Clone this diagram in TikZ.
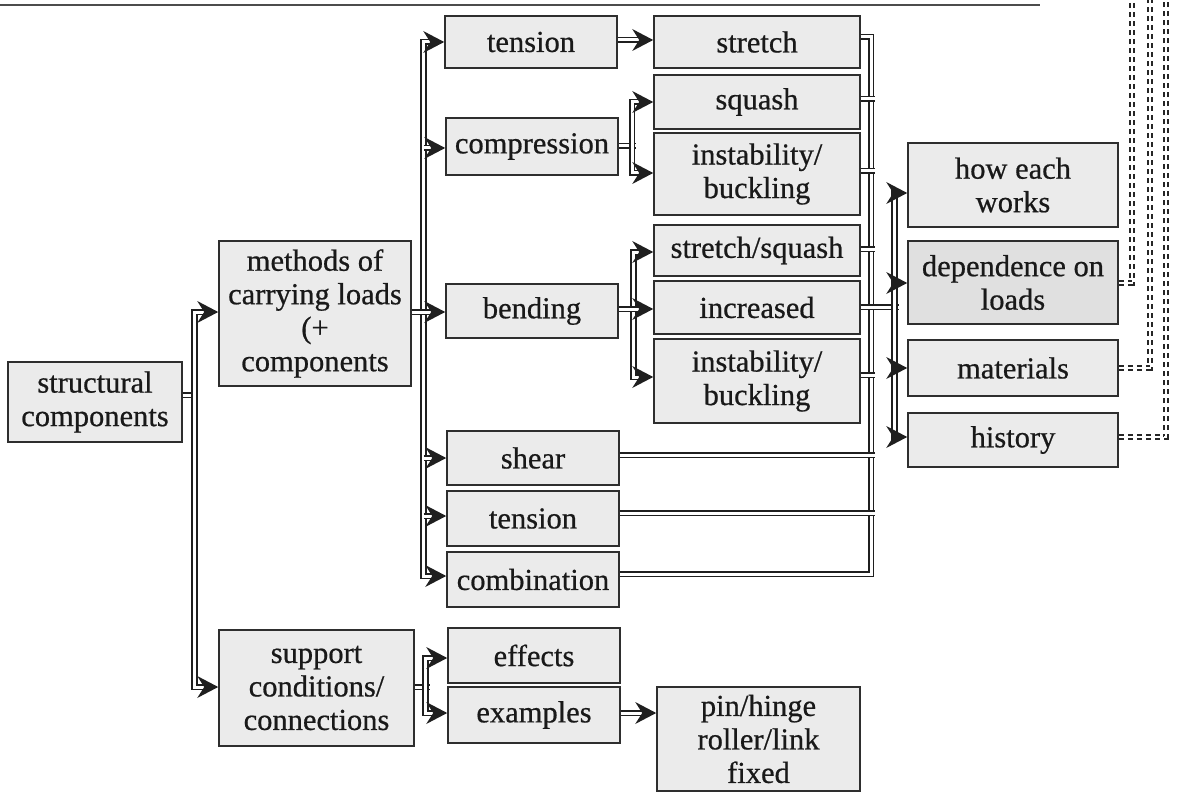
\documentclass[tikz,border=0pt]{standalone}
\usepackage{fontspec}
\setmainfont{Liberation Serif}[FakeBold=0.6]
\usetikzlibrary{decorations.markings}
\begin{document}
\begin{tikzpicture}[x=1pt,y=-1pt,
  box/.style={draw=black!82, line width=1.6pt, fill=black!8, inner sep=0pt, align=center,
    text=black!90, font=\fontsize{30.5}{33.5}\selectfont},
  dbl/.style={draw=black!88, double=white, double distance=3pt, line width=1.7pt},
  darr/.style={dbl, shorten >=12pt,
    postaction={decorate, decoration={markings, mark=at position 1 with
      {\fill[black!88] (0pt,0pt) -- (-21pt,11pt) -- (-14pt,0pt) -- (-21pt,-11pt) -- cycle;}}}},
  ddash/.style={draw=black!85, double=white, double distance=2.8pt, line width=1.7pt, dash pattern=on 5pt off 4pt}]
\useasboundingbox (0,0) rectangle (1182,802);
\draw[black!70, line width=2pt] (0,5) -- (1040,5);
% nodes
\node[box, minimum width=174pt, minimum height=80pt] (sc) at (95,402) {structural\\components};
\node[box, minimum width=192pt, minimum height=145pt] (mc) at (315,313.5) {methods of\\carrying loads\\(+\\components};
\node[box, minimum width=195pt, minimum height=116pt] (sup) at (316.5,688) {support\\conditions/\\connections};
\node[box, minimum width=172pt, minimum height=52pt] (t1) at (531,42) {tension};
\node[box, minimum width=172pt, minimum height=57pt] (comp) at (532,146.5) {compression};
\node[box, minimum width=172pt, minimum height=54pt] (bend) at (532,311) {bending};
\node[box, minimum width=172pt, minimum height=54pt] (shear) at (533,458) {shear};
\node[box, minimum width=172pt, minimum height=55pt] (t2) at (533,518.5) {tension};
\node[box, minimum width=172pt, minimum height=55pt] (comb) at (533,579.5) {combination};
\node[box, minimum width=172pt, minimum height=55pt] (eff) at (534,655.5) {effects};
\node[box, minimum width=172pt, minimum height=56pt] (ex) at (534,715) {examples};
\node[box, minimum width=206pt, minimum height=52pt] (stretch) at (757,42) {stretch};
\node[box, minimum width=206pt, minimum height=54pt] (squash) at (757,102) {squash};
\node[box, minimum width=206pt, minimum height=82pt] (inst1) at (757,174) {instability/\\buckling};
\node[box, minimum width=206pt, minimum height=51pt] (ss) at (757,250.5) {stretch/squash};
\node[box, minimum width=206pt, minimum height=53pt] (inc) at (757,307.5) {increased};
\node[box, minimum width=206pt, minimum height=84pt] (inst2) at (757,381) {instability/\\buckling};
\node[box, minimum width=203pt, minimum height=104pt] (pin) at (758.5,739) {pin/hinge\\roller/link\\fixed};
\node[box, minimum width=210pt, minimum height=84pt] (how) at (1013,185) {how each\\works};
\node[box, minimum width=210pt, minimum height=83pt, fill=black!12] (dep) at (1013,282.5) {dependence on\\loads};
\node[box, minimum width=210pt, minimum height=56pt] (mat) at (1013,368) {materials};
\node[box, minimum width=210pt, minimum height=54pt] (hist) at (1013,440) {history};
% fork A
\draw[dbl] (sc.east |- 0,395) -- (198,395);
\draw[darr] (194.5,395) |- (mc.west |- 0,312);
\draw[darr] (194.5,395) |- (sup.west |- 0,687);
% fork B
\draw[darr] (423.5,312) |- (t1.west |- 0,42);
\draw[darr] (423.5,312) |- (comb.west |- 0,576);
\draw[darr] (423.5,148) -- (comp.west |- 0,148);
\draw[darr] (423.5,458) -- (shear.west |- 0,458);
\draw[darr] (423.5,516) -- (t2.west |- 0,516);
\draw[darr] (mc.east |- 0,312) -- (bend.west |- 0,312);
% fork C
\draw[dbl] (comp.east |- 0,146) -- (636,146);
\draw[darr] (632,146) |- (squash.west |- 0,102);
\draw[darr] (632,146) |- (inst1.west |- 0,173);
% fork D
\draw[darr] (633.5,309) |- (ss.west |- 0,252);
\draw[darr] (633.5,309) |- (inst2.west |- 0,377);
\draw[darr] (bend.east |- 0,309) -- (inc.west |- 0,309);
% fork E
\draw[dbl] (sup.east |- 0,687) -- (429.5,687);
\draw[darr] (425.5,687) |- (eff.west |- 0,658);
\draw[darr] (425.5,687) |- (ex.west |- 0,713);
% direct
\draw[darr] (t1.east |- 0,40) -- (stretch.west |- 0,40);
\draw[darr] (ex.east |- 0,713) -- (pin.west |- 0,713);
% right bus R
\draw[dbl] (stretch.east |- 0,37) -- (871,37) -- (871,574) -- (comb.east |- 0,574);
\draw[dbl] (squash.east |- 0,99) -- (874.5,99);
\draw[dbl] (inst1.east |- 0,171) -- (874.5,171);
\draw[dbl] (ss.east |- 0,249) -- (874.5,249);
\draw[dbl] (inst2.east |- 0,375) -- (874.5,375);
\draw[dbl] (shear.east |- 0,455) -- (874.5,455);
\draw[dbl] (t2.east |- 0,513) -- (874.5,513);
\draw[dbl] (inc.east |- 0,307) -- (898.5,307);
% fork F
\draw[darr] (894.5,307) |- (how.west |- 0,193);
\draw[darr] (894.5,307) |- (hist.west |- 0,437);
\draw[darr] (894.5,283) -- (dep.west |- 0,283);
\draw[darr] (894.5,368) -- (mat.west |- 0,368);
% dashed returns
\draw[ddash] (dep.east |- 0,283) -- (1132,283) -- (1132,-10);
\draw[ddash] (mat.east |- 0,368) -- (1150,368) -- (1150,-10);
\draw[ddash] (hist.east |- 0,437) -- (1166,437) -- (1166,-10);
\end{tikzpicture}
\end{document}
